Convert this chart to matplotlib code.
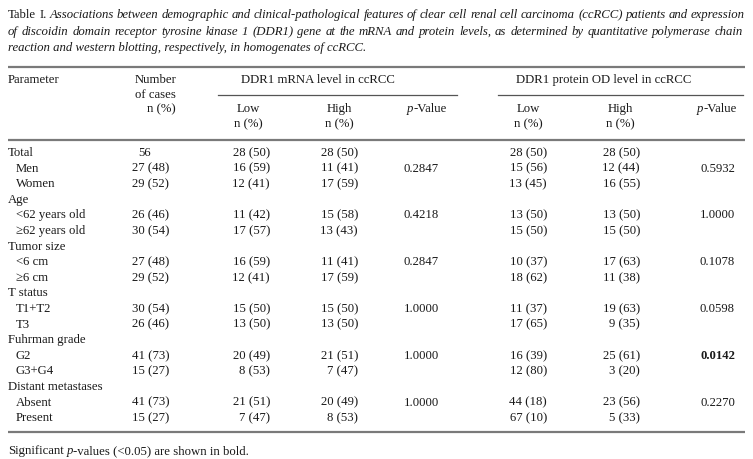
#!/usr/bin/env python3
"""Table I as a figure: DDR1 mRNA / protein levels vs clinical features in ccRCC."""
import matplotlib
matplotlib.use("Agg")
import matplotlib.pyplot as plt

# ---- table content -------------------------------------------------------
caption_lines = [
    "Associations between demographic and clinical-pathological features of clear cell renal cell carcinoma (ccRCC) patients and expression",
    "of discoidin domain receptor tyrosine kinase 1 (DDR1) gene at the mRNA and protein levels, as determined by quantitative polymerase chain",
    "reaction and western blotting, respectively, in homogenates of ccRCC.",
]
params = ["Total", "Men", "Women", "Age", "<62 years old", "\u226562 years old",
          "Tumor size", "<6 cm", "\u22656 cm", "T status", "T1+T2", "T3",
          "Fuhrman grade", "G2", "G3+G4", "Distant metastases", "Absent", "Present"]
indented = [False, True, True, False, True, True, False, True, True,
            False, True, True, False, True, True, False, True, True]
cases = ["56", "27 (48)", "29 (52)", "", "26 (46)", "30 (54)", "", "27 (48)", "29 (52)",
         "", "30 (54)", "26 (46)", "", "41 (73)", "15 (27)", "", "41 (73)", "15 (27)"]
mrna_low = ["28 (50)", "16 (59)", "12 (41)", "", "11 (42)", "17 (57)", "", "16 (59)", "12 (41)",
            "", "15 (50)", "13 (50)", "", "20 (49)", "8 (53)", "", "21 (51)", "7 (47)"]
mrna_high = ["28 (50)", "11 (41)", "17 (59)", "", "15 (58)", "13 (43)", "", "11 (41)", "17 (59)",
             "", "15 (50)", "13 (50)", "", "21 (51)", "7 (47)", "", "20 (49)", "8 (53)"]
mrna_p = ["", "0.2847", "", "", "0.4218", "", "", "0.2847", "",
          "", "1.0000", "", "", "1.0000", "", "", "1.0000", ""]
prot_low = ["28 (50)", "15 (56)", "13 (45)", "", "13 (50)", "15 (50)", "", "10 (37)", "18 (62)",
            "", "11 (37)", "17 (65)", "", "16 (39)", "12 (80)", "", "44 (18)", "67 (10)"]
prot_high = ["28 (50)", "12 (44)", "16 (55)", "", "13 (50)", "15 (50)", "", "17 (63)", "11 (38)",
             "", "19 (63)", "9 (35)", "", "25 (61)", "3 (20)", "", "23 (56)", "5 (33)"]
prot_p = ["", "0.5932", "", "", "1.0000", "", "", "0.1078", "",
          "", "0.0598", "", "", "0.0142", "", "", "0.2270", ""]
bold_p = ["0.0142"]

W, H = 753, 459
FAM = ["Liberation Serif", "DejaVu Serif"]
FS = 9.2
INK = "#1a1a1a"
RULE = "#7a7a7a"

fig = plt.figure(figsize=(W / 100, H / 100), dpi=100)
fig.patch.set_facecolor("white")
ax = fig.add_axes([0, 0, 1, 1])
ax.set_xlim(0, W)
ax.set_ylim(H, 0)
ax.set_axis_off()
fig.canvas.draw()
renderer = fig.canvas.get_renderer()


def txt(x, y, s, ha="left", style="normal", weight="normal", size=FS):
    return ax.text(x, y, s, ha=ha, va="center", family=FAM, fontsize=size,
                   style=style, weight=weight, color=INK)


def width(s, style="normal", weight="normal", size=FS):
    t = txt(0, -100, s, style=style, weight=weight, size=size)
    w = t.get_window_extent(renderer).width
    t.remove()
    return w


def runs(x, y, parts, ha="left", size=FS):
    # parts: list of (text, style, weight); spaces measured explicitly
    widths = []
    for s, st, wt in parts:
        core = s.strip(" ")
        lead = len(s) - len(s.lstrip(" "))
        trail = len(s) - len(s.rstrip(" "))
        sp = width("a a", st, wt, size) - width("aa", st, wt, size)
        widths.append((core, lead * sp, width(core, st, wt, size) if core else 0, trail * sp))
    total = sum(a + b + c for _, a, b, c in widths)
    cx = x - total if ha == "right" else x
    for (core, a, b, c), (_, st, wt) in zip(widths, parts):
        cx += a
        if core:
            txt(cx, y, core, style=st, weight=wt, size=size)
        cx += b + c


def justify(x0, x1, y, words_parts, size):
    # words_parts: list of (word, style); spread across x0..x1
    ws = [width(w, st, size=size) for w, st in words_parts]
    gap = (x1 - x0 - sum(ws)) / (len(ws) - 1)
    cx = x0
    for (w, st), wd in zip(words_parts, ws):
        txt(cx, y, w, style=st, size=size)
        cx += wd + gap


# ---- caption -------------------------------------------------------------
L, R = 8, 745
cap_y = [15, 32, 48]
line1 = [("Table", "normal"), ("I.", "normal")] + [(w, "italic") for w in caption_lines[0].split()]
line2 = [(w, "italic") for w in caption_lines[1].split()]
cap_size = FS
for cand in [9.2, 9.0, 8.8, 8.6, 8.4, 8.2, 8.0, 7.8]:
    cap_size = cand
    need = max(sum(width(w, st, size=cand) for w, st in ln) + 2.2 * len(ln) for ln in (line1, line2))
    if need <= R - L:
        break
justify(L, R, cap_y[0], line1, cap_size)
justify(L, R - 2, cap_y[1], line2, cap_size)
runs(L, cap_y[2], [(caption_lines[2], "italic", "normal")], size=cap_size)

# ---- rules ---------------------------------------------------------------
ax.plot([L, R], [67, 67], color=RULE, lw=1.6, solid_capstyle="butt")
ax.plot([218, 457], [95, 95], color="#555555", lw=0.9)
ax.plot([498, 743], [95, 95], color="#555555", lw=0.9)
ax.plot([L, R], [140, 140], color=RULE, lw=1.6, solid_capstyle="butt")
ax.plot([L, R], [432, 432], color=RULE, lw=1.6, solid_capstyle="butt")

# ---- header --------------------------------------------------------------
txt(L, 80, "Parameter")
txt(177, 80, "Number", ha="right")
txt(176, 95, "of cases", ha="right")
txt(176, 109, "n (%)", ha="right")
txt(318, 80, "DDR1 mRNA level in ccRCC", ha="center")
txt(604, 80, "DDR1 protein OD level in ccRCC", ha="center")
for cx in (248, 339, 528, 620):
    txt(cx, 109, "High" if cx in (339, 620) else "Low", ha="center")
    txt(cx, 124, "n (%)", ha="center")
runs(447, 109, [("p", "italic", "normal"), ("-Value", "normal", "normal")], ha="right")
runs(737, 109, [("p", "italic", "normal"), ("-Value", "normal", "normal")], ha="right")

# ---- body ----------------------------------------------------------------
y0, dy = 153, 15.6
for i, p in enumerate(params):
    y = y0 + i * dy
    txt(16 if indented[i] else L, y, p)
    if cases[i]:
        txt(138 if i == 0 else 132, y, cases[i])
    txt(270, y, mrna_low[i], ha="right")
    txt(358, y, mrna_high[i], ha="right")
    txt(404, y, mrna_p[i])
    txt(547, y, prot_low[i], ha="right")
    txt(640, y, prot_high[i], ha="right")
    txt(735, y, prot_p[i], ha="right", weight="bold" if prot_p[i] in bold_p else "normal")

# ---- footnote ------------------------------------------------------------
runs(L, 451, [("Significant ", "normal", "normal"), ("p", "italic", "normal"),
              ("-values (<0.05) are shown in bold.", "normal", "normal")])

fig.savefig("out.png", dpi=100, facecolor="white")
plt.close(fig)
